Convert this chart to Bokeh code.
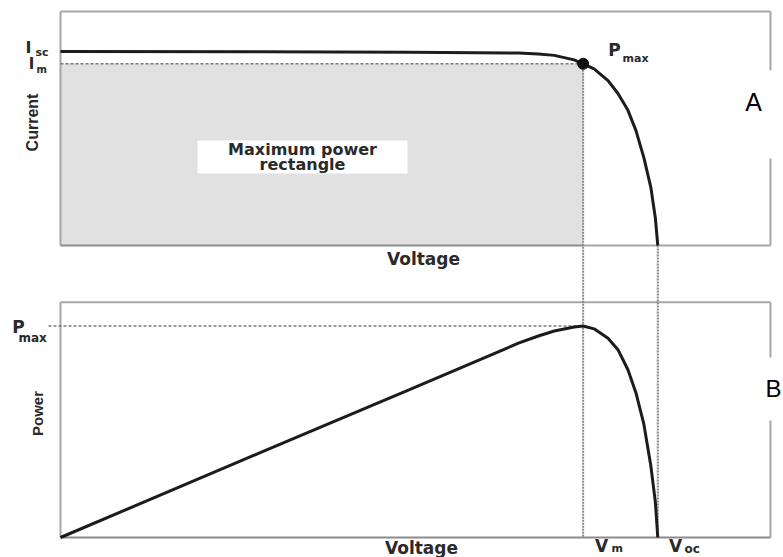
import math
from bokeh.plotting import figure
from bokeh.models import Range1d, Label
from bokeh.embed import file_html
from bokeh.resources import INLINE

# ---------------- data ----------------
voltage = [0.0, 0.20, 0.35, 0.46, 0.48, 0.496, 0.516, 0.525, 0.536, 0.550,
           0.560, 0.570, 0.578, 0.586, 0.593, 0.5975, 0.600]
current = [3.00, 2.995, 2.99, 2.975, 2.96, 2.94, 2.87, 2.81, 2.73, 2.55,
           2.35, 2.09, 1.78, 1.36, 0.90, 0.43, 0.0]
power = [0.0, 0.59, 1.03, 1.355, 1.405, 1.44, 1.468, 1.475, 1.455, 1.39,
         1.31, 1.17, 1.01, 0.79, 0.50, 0.25, 0.0]
i_sc = 3.0
v_m = 0.525
i_m = 2.81
v_oc = 0.600
p_max = 1.475
v_axis_end = 0.7132
i_axis_top = 3.62
p_axis_top = 1.64

# ---------------- layout (pixels) ----------------
W, H = 783, 557
X0, SX = 60, 995.5          # pixel of V=0, px per volt
Y0_I, SY_I = 245, 64.67     # pixel of I=0, px per amp
Y0_P, SY_P = 537, 143.4     # pixel of P=0, px per watt


def vx(px):
    return (px - X0) / SX


def iy(py):
    return (Y0_I - py) / SY_I


def p_of_i(i):
    py = Y0_I - i * SY_I
    return (Y0_P - py) / SY_P


p = figure(width=W, height=H, output_backend="svg", toolbar_location=None,
           x_range=Range1d(vx(0), vx(W)), y_range=Range1d(iy(H), iy(0)),
           x_axis_type=None, y_axis_type=None, min_border=0,
           outline_line_color=None, background_fill_color="white")
p.extra_y_ranges = {"power": Range1d((Y0_P - H) / SY_P, Y0_P / SY_P)}
p.grid.visible = False

BOX = "#a6a6a6"
# maximum power rectangle
p.quad(left=[0], right=[v_m], bottom=[0], top=[i_m],
       fill_color="#e1e1e1", line_color=None)

# top panel frame (right edge has a gap for the "A" label)
gap_a = (iy(70), iy(158))
p.segment(x0=[0, 0, v_axis_end, v_axis_end],
          y0=[0, i_axis_top, i_axis_top, gap_a[1]],
          x1=[0, v_axis_end, v_axis_end, v_axis_end],
          y1=[i_axis_top, i_axis_top, gap_a[0], 0],
          line_color=BOX, line_width=2)
p.segment(x0=[0, v_m], y0=[0, 0], x1=[v_m, v_axis_end], y1=[0, 0],
          line_color=["#8c8c8c", BOX], line_width=2)

# bottom panel frame (gap for "B")
gap_b = ((Y0_P - 357) / SY_P, (Y0_P - 420) / SY_P)
p.segment(x0=[0, 0, v_axis_end, v_axis_end],
          y0=[0, p_axis_top, p_axis_top, gap_b[1]],
          x1=[0, v_axis_end, v_axis_end, v_axis_end],
          y1=[p_axis_top, p_axis_top, gap_b[0], 0],
          line_color=BOX, line_width=2, y_range_name="power")
p.segment(x0=[0], y0=[0], x1=[v_axis_end], y1=[0],
          line_color="#8c8c8c", line_width=2, y_range_name="power")

# dashed guides
p.segment(x0=[0], y0=[i_m], x1=[v_m], y1=[i_m],
          line_color="#7a7a7a", line_width=1.5, line_dash="3 2")
p.segment(x0=[vx(48)], y0=[p_max], x1=[v_m], y1=[p_max],
          line_color="#7a7a7a", line_width=1.5, line_dash="3 2",
          y_range_name="power")
p.segment(x0=[v_m, v_oc], y0=[p_of_i(i_m), p_of_i(0)],
          x1=[v_m, v_oc], y1=[0, 0],
          line_color="#888888", line_width=2, line_dash="2 1",
          y_range_name="power")

# curves
p.line(voltage, current, line_color="#1c1c1c", line_width=3)
p.line(voltage, power, line_color="#1c1c1c", line_width=3,
       y_range_name="power")
p.scatter([v_m], [i_m], size=11, color="#111111")

# white label box
p.quad(left=[vx(197)], right=[vx(407)], bottom=[iy(173)], top=[iy(140)],
       fill_color="white", line_color=None)

BOLD_W = "DejaVu Sans"
NARROW = "Liberation Sans"
TXT = "#2a2a2a"


def lab(px, py, text, size, font=BOLD_W, style="bold", align="center",
        angle=0.0, color=TXT):
    p.add_layout(Label(x=vx(px), y=iy(py), text=text, text_font=font,
                       text_font_size=f"{size}px", text_font_style=style,
                       text_align=align, text_baseline="middle",
                       angle=angle, text_color=color))


lab(302, 149, "Maximum power", 16)
lab(302, 164, "rectangle", 16)
lab(423, 258, "Voltage", 17)
lab(421, 547, "Voltage", 17)
lab(32, 122, "Current", 16, font=NARROW, angle=math.pi / 2)
lab(37, 413, "Power", 15, font=NARROW, angle=math.pi / 2)

lab(28, 47, "I", 16)
lab(35, 52, "sc", 11, align="left")
lab(31, 63, "I", 15)
lab(36, 69, "m", 10, align="left")

lab(614, 49, "P", 17)
lab(622, 58, "max", 11, align="left")
lab(18, 326, "P", 17)
lab(18, 337, "max", 12, align="left")

lab(601, 545, "V", 17)
lab(611, 548, "m", 11, align="left")
lab(675, 545, "V", 17)
lab(684, 548, "oc", 12, align="left")

lab(753, 101, "A", 25, font="Liberation Sans", style="normal", color="black")
lab(781, 388, "B", 24, font="Liberation Sans", style="normal", align="right",
    color="black")

open("out.html", "w").write(file_html(p, INLINE))
